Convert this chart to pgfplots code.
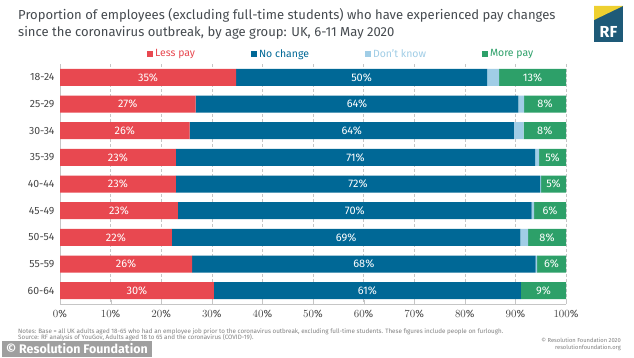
\documentclass[border=0pt]{standalone}
\usepackage{pgfplots}
\pgfplotsset{compat=1.18}
\usepackage{pgfplotstable}
\usepackage{fontspec}
\setmainfont{Fira Sans}
\definecolor{rfred}{RGB}{232,72,80}
\definecolor{rfblue}{RGB}{0,104,150}
\definecolor{rfdk}{RGB}{160,205,230}
\definecolor{rfgreen}{RGB}{45,160,105}
\definecolor{titlegray}{RGB}{70,75,80}
\definecolor{labgray}{RGB}{70,70,70}
\definecolor{logoblue}{RGB}{30,90,120}
\definecolor{logoyellow}{RGB}{238,208,48}

\pgfplotstableread{
i red blue dk green lr lb lg
0 34.8 49.6 2.4 13.2 35 50 13
1 26.8 63.8 1.1 8.3 27 64 8
2 25.6 64.1 1.9 8.4 26 64 8
3 22.9 71.0 0.8 5.3 23 71 5
4 22.9 72.0 0.2 4.9 23 72 5
5 23.3 69.9 0.5 6.3 23 70 6
6 22.1 68.9 1.5 7.5 22 69 8
7 26.1 67.9 0.3 5.7 26 68 6
8 30.4 60.7 0.0 8.9 30 61 9
}\data

\begin{document}
\begin{tikzpicture}[x=1bp,y=1bp]
\fill[white] (0,0) rectangle (634,357);
\path[use as bounding box] (0,0) rectangle (634,357);

\node[anchor=north west, align=left, font=\fontsize{13.1}{17.5}\selectfont, text=titlegray, inner sep=0] at (18,349)
 {Proportion of employees (excluding full-time students) who have experienced pay changes\\since the coronavirus outbreak, by age group: UK, 6-11 May 2020};

% logo
\fill[logoblue] (594,315) rectangle (623,351);
\fill[logoyellow] (594,351) -- (623,351) -- (594,337) -- cycle;
\node[text=white, font=\fontsize{16}{16}\selectfont\bfseries, inner sep=0] at (608.5,325) {RF};

\begin{axis}[at={(60bp,53bp)}, anchor=south west, scale only axis, width=506bp, height=240bp,
  xbar stacked, bar width=17bp,
  xmin=0, xmax=100, ymin=-0.5, ymax=8.5, y dir=reverse,
  ytick={0,...,8}, yticklabels={18-24,25-29,30-34,35-39,40-44,45-49,50-54,55-59,60-64},
  xtick={0,10,...,100}, xticklabel={\pgfmathprintnumber{\tick}\%},
  axis lines=left, axis line style={-, draw=gray!45},
  xmajorgrids, grid style={gray!45, dash pattern=on 2.5bp off 2.5bp},
  tick align=inside, major tick length=4bp,
  xtick style={draw=gray!45}, ytick style={draw=none},
  tick label style={font=\fontsize{10.5}{12}\selectfont, text=labgray},
  yticklabel style={xshift=-2bp},
  xticklabel style={yshift=-3bp},
  legend columns=4,
  legend style={at={(axis description cs:0.172,1.042)}, anchor=west, draw=none, fill=none, inner sep=0pt,
    font=\fontsize{10.5}{12}\selectfont,
    /tikz/every even column/.append style={column sep=54bp}},
  legend image code/.code={\fill[#1] (0bp,-3bp) rectangle (6bp,3bp);},
]
\addplot[fill=rfred, draw=none] table[x=red, y=i] {\data};
\addlegendentry{\textcolor{rfred}{Less pay}}
\addplot[fill=rfblue, draw=none] table[x=blue, y=i] {\data};
\addlegendentry{\textcolor{rfblue}{No change}}
\addplot[fill=rfdk, draw=none] table[x=dk, y=i] {\data};
\addlegendentry{\textcolor{rfdk}{Don't know}}
\addplot[fill=rfgreen, draw=none] table[x=green, y=i] {\data};
\addlegendentry{\textcolor{rfgreen}{More pay}}
\end{axis}

\begin{axis}[at={(60bp,53bp)}, anchor=south west, scale only axis, width=506bp, height=240bp,
  xmin=0, xmax=100, ymin=-0.5, ymax=8.5, y dir=reverse, hide axis,
  point meta=explicit symbolic,
  nodes near coords={\pgfplotspointmeta\%},
  every node near coord/.append style={anchor=center, text=white, font=\fontsize{11}{12}\selectfont, inner sep=0pt},
]
\addplot[only marks, mark=*, mark size=0pt, mark options={draw=none, fill=none}] table[x expr=\thisrow{red}/2, y=i, meta=lr] {\data};
\addplot[only marks, mark=*, mark size=0pt, mark options={draw=none, fill=none}] table[x expr=\thisrow{red}+\thisrow{blue}/2, y=i, meta=lb] {\data};
\addplot[only marks, mark=*, mark size=0pt, mark options={draw=none, fill=none}] table[x expr=100-\thisrow{green}/2, y=i, meta=lg] {\data};
\end{axis}

% notes
\node[anchor=west, font=\fontsize{6.3}{7}\selectfont, text=gray, inner sep=0] at (18,25)
 {Notes: Base = all UK adults aged 18-65 who had an employee job prior to the coronavirus outbreak, excluding full-time students. These figures include people on furlough.};
\node[anchor=west, font=\fontsize{6.3}{7}\selectfont, text=gray, inner sep=0] at (18,19)
 {Source: RF analysis of YouGov, Adults aged 18 to 65 and the coronavirus (COVID-19).};
\node[anchor=east, font=\fontsize{5.8}{6.5}\selectfont, text=gray, inner sep=0] at (621,17)
 {\textcopyright{} Resolution Foundation 2020};
\node[anchor=east, font=\fontsize{5.8}{6.5}\selectfont, text=gray, inner sep=0] at (621,9)
 {resolutionfoundation.org};

% watermark
\fill[gray!75] (2,0) rectangle (152,16);
\node[anchor=west, text=white, font=\fontsize{12.5}{13}\selectfont\bfseries, inner sep=0] at (6,8)
 {\textcopyright{} Resolution Foundation};
\end{tikzpicture}
\end{document}
